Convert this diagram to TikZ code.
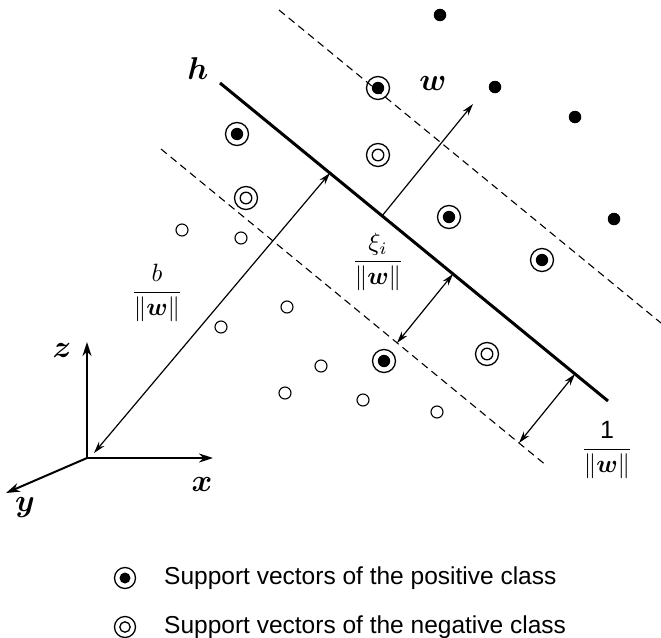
\documentclass[tikz,border=0pt]{standalone}
\usepackage{amsmath}
\usepackage{bm}
\usepackage{fontspec}
\setsansfont{Liberation Sans}
\usetikzlibrary{arrows.meta,calc}
\begin{document}
\begin{tikzpicture}[x=1pt,y=-1pt,
  hyper/.style={line width=3pt},
  margin/.style={line width=1.1pt,dash pattern=on 7.5pt off 5pt},
  dimarrow/.style={line width=1.2pt,{Stealth[length=12pt,width=7pt]}-{Stealth[length=12pt,width=7pt]}},
  vecarrow/.style={line width=1.2pt,-{Stealth[length=12pt,width=7pt]}},
  axis/.style={line width=2pt,-{Stealth[length=14pt,width=9pt]}},
  lbl/.style={inner sep=0pt,scale=3.15,transform shape},
  fraclbl/.style={inner sep=0pt,scale=2.5,transform shape},
  negdot/.style={circle,draw,line width=1.1pt,minimum size=12pt,inner sep=0pt},
  posdot/.style={circle,fill,minimum size=12.5pt,inner sep=0pt},
  possv/.style={circle,draw,line width=1.3pt,minimum size=23pt,inner sep=0pt,
    path picture={\fill (path picture bounding box.center) circle (6.2pt);}},
  negsv/.style={circle,draw,line width=1.3pt,minimum size=23pt,inner sep=0pt,
    path picture={\draw[line width=1.3pt] (path picture bounding box.center) circle (5.8pt);}},
  legtext/.style={anchor=west,inner sep=0pt,font=\sffamily\fontsize{24.5}{28}\selectfont}
]
\useasboundingbox (0,0) rectangle (661,637);
% lines
\coordinate (H1) at (220,83);
\coordinate (H2) at (608,401);
\coordinate (U1) at (279,10);
\coordinate (U2) at (661,323);
\coordinate (L1) at (161,149);
\coordinate (L2) at (547,466);
\draw[margin] (U1) -- (U2);
\draw[margin] (L1) -- (L2);
\draw[hyper] (H1) -- (H2);
% positive points
\node[posdot] (p1) at (440,15) {};
\node[posdot] (p2) at (495,87) {};
\node[posdot] (p3) at (575,117) {};
\node[posdot] (p4) at (614,219) {};
% positive SVs
\node[possv] (ps1) at (237,134) {};
\node[possv] (ps2) at (378,88) {};
\node[possv] (ps3) at (449,217) {};
\node[possv] (ps4) at (542,260) {};
\node[possv] (ps5) at (384,361) {};
% negative SVs
\node[negsv] (ns1) at (246,198) {};
\node[negsv] (ns2) at (378,155) {};
\node[negsv] (ns3) at (487,354) {};
% negative points
\node[negdot] (n1) at (182,230) {};
\node[negdot] (n2) at (241,238) {};
\node[negdot] (n3) at (287,307) {};
\node[negdot] (n4) at (221,327) {};
\node[negdot] (n5) at (321,366) {};
\node[negdot] (n6) at (285,393) {};
\node[negdot] (n7) at (363,400) {};
\node[negdot] (n8) at (437,412) {};
% axes
\coordinate (O) at (87,458);
\coordinate (Z) at (87,342);
\coordinate (X) at (213,458);
\coordinate (Y) at (6,493);
\draw[axis] (O) -- (Z);
\draw[axis] (O) -- (X);
\draw[axis] (O) -- (Y);
\node[lbl] (zl) at (62,350) {$\bm{z}$};
\node[lbl] (xl) at (202,484) {$\bm{x}$};
\node[lbl] (yl) at (25,508) {$\bm{y}$};
% arrows
\coordinate (bS) at (94,453);
\coordinate (bE) at (330,173);
\draw[dimarrow] (bS) -- (bE);
\coordinate (wS) at (382,216);
\coordinate (wE) at (473,104);
\draw[vecarrow] (wS) -- (wE);
\coordinate (xS) at (453,274);
\coordinate (xE) at (397,343);
\draw[dimarrow] (xS) -- (xE);
\coordinate (oS) at (575,374);
\coordinate (oE) at (519,443);
\draw[dimarrow] (oS) -- (oE);
% labels
\node[lbl] (hl) at (198,69) {$\bm{h}$};
\node[lbl] (wl) at (433,83) {$\bm{w}$};
\node[fraclbl] (bl) at (157,293) {$\dfrac{b}{\|\bm{w}\|}$};
\node[fraclbl] (xil) at (378,262) {$\dfrac{\xi_i}{\|\bm{w}\|}$};
\node[fraclbl] (ol) at (607,450) {$\dfrac{\text{\sffamily 1}}{\|\bm{w}\|}$};
% legend
\node[possv,minimum size=21pt,path picture={\fill (path picture bounding box.center) circle (5.5pt);}] (lg1) at (125,578) {};
\node[negsv,minimum size=21pt,path picture={\draw[line width=1.3pt] (path picture bounding box.center) circle (5.2pt);}] (lg2) at (125,627) {};
\node[legtext] (lt1) at (164,578) {Support vectors of the positive class};
\node[legtext] (lt2) at (164,627) {Support vectors of the negative class};
\end{tikzpicture}
\end{document}
